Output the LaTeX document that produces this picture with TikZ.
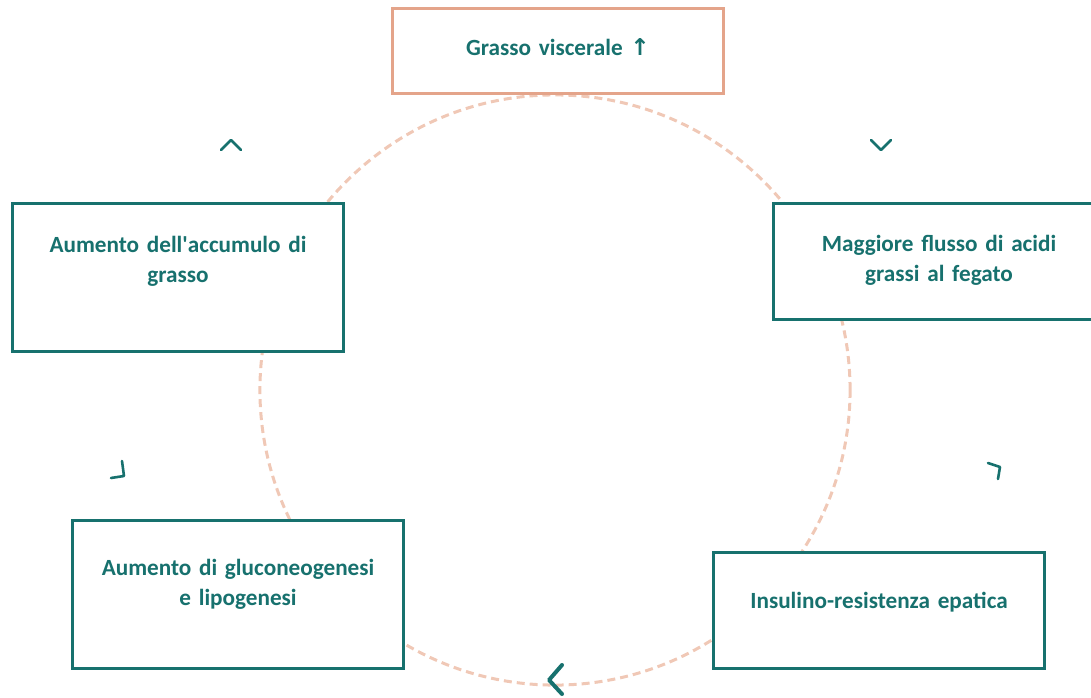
\documentclass[tikz,border=0pt]{standalone}
\usepackage{fontspec}
\setmainfont{Carlito}
\newfontfamily\arrowfont{DejaVu Sans}
\usepackage{tikz}
\usetikzlibrary{calc, positioning}

\definecolor{verde}{RGB}{23,113,110}
\definecolor{salmone}{RGB}{228,164,138}
\definecolor{cerchio}{RGB}{240,200,182}

\tikzset{
	scatola/.style={draw=verde, line width=0.075cm, fill=white, anchor=north west,
		text width=8.275cm, align=center, inner sep=0pt, text=verde,
		font=\fontsize{16.5}{21.5}\selectfont\bfseries},
	freccina/.style={draw=verde, line width=0.065cm, line cap=round, line join=round},
}

\begin{document}
\begin{tikzpicture}[x=0.025cm, y=-0.025cm]
		\useasboundingbox (0,0) rectangle (1091,697);
		% ciclo
		\coordinate (centro) at (555,390);
		\draw[cerchio, line width=0.075cm, dash pattern=on 0.2cm off 0.125cm] (centro) circle [radius=7.375cm];
		% riquadri
		\node[scatola, draw=salmone, text height=1.175cm, text depth=0.95cm] (grasso) at (391,7) {Grasso viscerale {\arrowfont\bfseries ↑}};
		\node[scatola, text height=1.2cm, text depth=1.7cm] (flusso) at (772,202) {Maggiore flusso di acidi\\grassi al fegato};
		\node[scatola, text height=1.4cm, text depth=1.5cm] (insulina) at (712,551) {Insulino-resistenza epatica};
		\node[scatola, text height=1.375cm, text depth=2.325cm] (gluco) at (71,519) {Aumento di gluconeogenesi\\e lipogenesi};
		\node[scatola, text height=1.225cm, text depth=2.475cm] (accumulo) at (11,202) {Aumento dell\textquotesingle accumulo di\\grasso};
		% frecce
		\draw[freccina] (871,140) -- (881,150) -- (891,140);
		\draw[freccina] (988,463) -- (1000,467) -- (998,479);
		\draw[freccina, line width=0.1cm] (562,665) -- (549,680) -- (562,694);
		\draw[freccina] (111,478) -- (124,476) -- (122,461);
		\draw[freccina] (221,150) -- (231,140) -- (241,150);
	\end{tikzpicture}
\end{document}
